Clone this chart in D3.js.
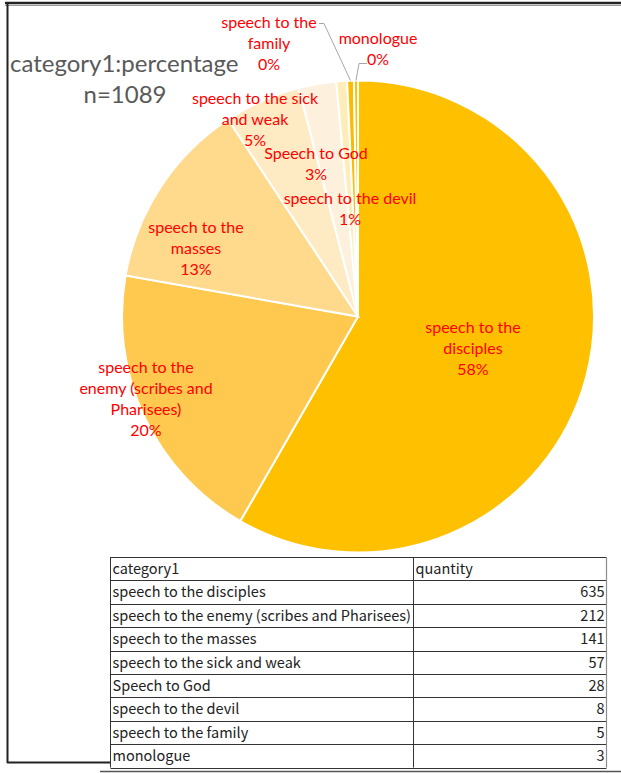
<!DOCTYPE html>
<html lang="en">
  <head>
    <meta charset="UTF-8" />
    <script src="https://d3js.org/d3.v7.min.js"></script>
    <title>category1:percentage</title>
    <style>
      body { margin: 0; background: #fff; }
    </style>
  </head>
  <body>
    <script>
      // data
      const categories = [
        "speech to the disciples",
        "speech to the enemy (scribes and Pharisees)",
        "speech to the masses",
        "speech to the sick and weak",
        "Speech to God",
        "speech to the devil",
        "speech to the family",
        "monologue"
      ];
      const quantities = [635, 212, 141, 57, 28, 8, 5, 3];
      const percentLabels = [58, 20, 13, 5, 3, 1, 0, 0];
      // how the labels wrap in the chart
      const labelLines = [
        ["speech to the", "disciples"],
        ["speech to the", "enemy (scribes and", "Pharisees)"],
        ["speech to the", "masses"],
        ["speech to the sick", "and weak"],
        ["Speech to God"],
        ["speech to the devil"],
        ["speech to the", "family"],
        ["monologue"]
      ];
      const tableHeader = ["category1", "quantity"];

      const colors = ["#FFC000", "#FFC94F", "#FFD98C", "#FEEBC4", "#FDF1DE", "#FEEDB8", "#FABB00", "#FFC000"];

      const width = 621, height = 773;
      const cx = 358, cy = 316.5, radius = 236;

      // label block centres, relative to pie centre (labels were placed by hand)
      const labelOffsets = [
        [115, 32], [-212, 82], [-162, -68], [-103, -197],
        [-42, -153], [-8, -108], [-89, -273], [20, -268]
      ];

      const total = d3.sum(quantities);
      const data = categories.map((c, i) => ({
        name: c, value: quantities[i], pct: percentLabels[i], lines: labelLines[i], i
      }));

      const svg = d3.select("body").append("svg")
        .attr("width", width).attr("height", height)
        .style("font-family", "Lato, 'Open Sans', sans-serif");

      // frame
      const frame = svg.append("g").attr("fill", "none");
      frame.append("line").attr("x1", 5).attr("x2", width).attr("y1", 3).attr("y2", 3)
        .attr("stroke", "#222").attr("stroke-width", 2.5);
      frame.append("line").attr("x1", 5).attr("x2", width).attr("y1", 5.5).attr("y2", 5.5)
        .attr("stroke", "#999").attr("stroke-width", 1);
      frame.append("line").attr("x1", 7.5).attr("x2", 7.5).attr("y1", 2).attr("y2", 763)
        .attr("stroke", "#222").attr("stroke-width", 2);
      frame.append("line").attr("x1", 7).attr("x2", 111).attr("y1", 762.5).attr("y2", 762.5)
        .attr("stroke", "#222").attr("stroke-width", 2);
      frame.append("line").attr("x1", 100).attr("x2", width).attr("y1", 771.5).attr("y2", 771.5)
        .attr("stroke", "#555").attr("stroke-width", 1.5);

      // title
      svg.append("text").attr("x", 10).attr("y", 72)
        .attr("fill", "#595959").style("font-size", "24px")
        .text("category1:percentage");
      svg.append("text").attr("x", 125).attr("y", 103).attr("text-anchor", "middle")
        .attr("fill", "#595959").style("font-size", "24px")
        .text("n=" + total);

      // pie
      const pie = d3.pie().value(d => d.value).sort(null);
      const arc = d3.arc().innerRadius(0).outerRadius(radius);
      const arcs = pie(data);

      const g = svg.append("g").attr("transform", `translate(${cx},${cy})`);
      g.selectAll("path.slice")
        .data(arcs)
        .join("path")
        .attr("class", "slice")
        .attr("d", arc)
        .attr("fill", d => colors[d.data.i])
        .attr("stroke", "#fff")
        .attr("stroke-width", 2);

      // leader lines for the two tiny slices
      const leaders = [
        { i: 6, pts: [[-39, -293], [-34, -293]] },
        { i: 7, pts: [[9, -253], [1, -253]] }
      ];
      leaders.forEach(l => {
        const a = arcs[l.i];
        const mid = (a.startAngle + a.endAngle) / 2;
        const edge = [Math.sin(mid) * radius, -Math.cos(mid) * radius];
        g.append("polyline")
          .attr("points", [...l.pts, edge].map(p => p.join(",")).join(" "))
          .attr("fill", "none")
          .attr("stroke", "#A6A6A6")
          .attr("stroke-width", 1);
      });

      // labels
      const lineH = 21;
      const labels = g.selectAll("text.lbl")
        .data(arcs)
        .join("text")
        .attr("class", "lbl")
        .attr("text-anchor", "middle")
        .attr("fill", "#FF0000")
        .style("font-size", "16px");
      labels.each(function (d) {
        const lines = d.data.lines.concat([d.data.pct + "%"]);
        const off = labelOffsets[d.data.i];
        const y0 = off[1] - (lines.length - 1) * lineH / 2;
        d3.select(this).selectAll("tspan")
          .data(lines)
          .join("tspan")
          .attr("x", off[0])
          .attr("y", (t, k) => y0 + k * lineH)
          .attr("dy", "0.35em")
          .text(t => t);
      });

      // data table
      const tx0 = 110.5, tx1 = 413.5, tx2 = 606.5, ty0 = 557, rowH = 23.4;
      const rows = [tableHeader].concat(data.map(d => [d.name, d.value]));
      const y = d3.scaleLinear().domain([0, rows.length]).range([ty0, ty0 + rows.length * rowH]);
      const table = svg.append("g")
        .style("font-family", "'Noto Sans CJK JP', 'Noto Sans', sans-serif")
        .style("font-size", "14.5px");

      table.selectAll("line.row")
        .data(d3.range(rows.length + 1))
        .join("line")
        .attr("class", "row")
        .attr("x1", tx0).attr("x2", tx2)
        .attr("y1", k => Math.round(y(k)) + 0.5).attr("y2", k => Math.round(y(k)) + 0.5)
        .attr("stroke", "#333").attr("stroke-width", 1);
      [tx0, tx1].forEach(x => {
        table.append("line").attr("x1", x).attr("x2", x)
          .attr("y1", y(0)).attr("y2", y(rows.length))
          .attr("stroke", "#333").attr("stroke-width", 1);
      });
      table.append("line").attr("x1", tx2).attr("x2", tx2)
        .attr("y1", y(0)).attr("y2", y(rows.length))
        .attr("stroke", "#8c8c8c").attr("stroke-width", 1.2);

      const rowG = table.selectAll("g.r")
        .data(rows)
        .join("g")
        .attr("class", "r")
        .attr("transform", (r, k) => `translate(0,${y(k) + rowH / 2})`);
      rowG.append("text")
        .attr("x", tx0 + 2)
        .attr("dy", "0.36em")
        .attr("fill", "#222")
        .text(r => r[0]);
      rowG.append("text")
        .attr("x", (r, k) => k === 0 ? tx1 + 2 : tx2 - 2)
        .attr("text-anchor", (r, k) => k === 0 ? "start" : "end")
        .attr("dy", "0.36em")
        .attr("fill", "#222")
        .text(r => r[1]);
    </script>
  </body>
</html>
